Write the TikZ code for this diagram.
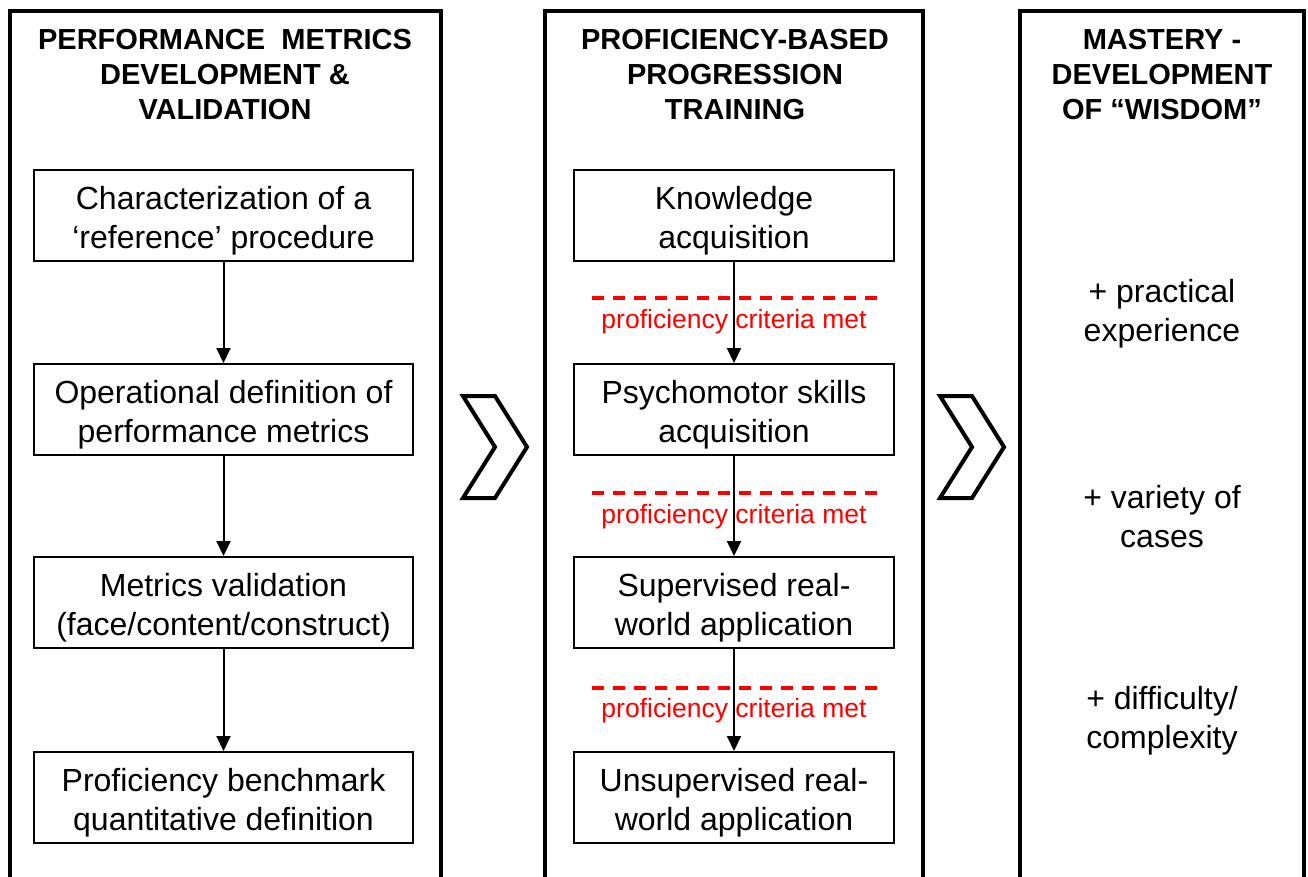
\documentclass[tikz,border=0pt]{standalone}
\usepackage{fontspec}
\setmainfont{Liberation Sans}
\usetikzlibrary{arrows.meta}

\begin{document}
\begin{tikzpicture}[x=1pt,y=-1pt,
panel/.style={line width=4pt},
box/.style={draw,line width=2pt,minimum height=91pt,align=center,inner sep=0pt,
  font=\fontsize{32}{39}\selectfont,execute at begin node={\rule{0pt}{72pt}}},
head/.style={align=center,font=\fontsize{29}{35}\selectfont\bfseries},
crit/.style={text=red,inner sep=0pt,font=\fontsize{26.5}{30}\selectfont},
gain/.style={align=center,font=\fontsize{32}{39}\selectfont},
flow/.style={line width=2pt,-{Triangle[width=14pt,length=15pt]}},
gate/.style={red,line width=4pt,dash pattern=on 12pt off 9pt},
chev/.style={line width=4pt,line join=miter}]
\useasboundingbox (0,0) rectangle (1308,876);
\draw[panel] (10,890) -- (10,11) -- (441,11) -- (441,890);
\draw[panel] (545,890) -- (545,11) -- (923,11) -- (923,890);
\draw[panel] (1020,890) -- (1020,11) -- (1304,11) -- (1304,890);
\node[head] (H1) at (225,75) {PERFORMANCE\ \ METRICS\\DEVELOPMENT \&\\VALIDATION};
\node[head] (H2) at (735,75) {PROFICIENCY-BASED\\PROGRESSION\\TRAINING};
\node[head] (H3) at (1162,75) {MASTERY -\\DEVELOPMENT\\OF ``WISDOM''};
\node[box,minimum width=379pt] (M1) at (223.5,215.5) {Characterization of a\\`reference' procedure};
\node[box,minimum width=379pt] (M2) at (223.5,409.5) {Operational definition of\\performance metrics};
\node[box,minimum width=379pt] (M3) at (223.5,602.5) {Metrics validation\\(face/content/construct)};
\node[box,minimum width=379pt] (M4) at (223.5,797.5) {Proficiency benchmark\\quantitative definition};
\node[box,minimum width=320pt] (P1) at (734,215.5) {Knowledge\\acquisition};
\node[box,minimum width=320pt] (P2) at (734,409.5) {Psychomotor skills\\acquisition};
\node[box,minimum width=320pt] (P3) at (734,602.5) {Supervised real-\\world application};
\node[box,minimum width=320pt] (P4) at (734,797.5) {Unsupervised real-\\world application};
\node[crit] (C1) at (734,322) {proficiency criteria met};
\node[crit] (C2) at (734,517) {proficiency criteria met};
\node[crit] (C3) at (734,711) {proficiency criteria met};
\node[gain] (G1) at (1162,313.5) {+ practical\\experience};
\node[gain] (G2) at (1162,516.5) {+ variety of\\cases};
\node[gain] (G3) at (1162,720.5) {+ difficulty/\\complexity};
\draw[gate] (592,298) -- (878,298);
\draw[gate] (592,493) -- (878,493);
\draw[gate] (592,688) -- (878,688);
\draw[flow] (M1) -- (M2);
\draw[flow] (M2) -- (M3);
\draw[flow] (M3) -- (M4);
\draw[flow] (P1) -- (P2);
\draw[flow] (P2) -- (P3);
\draw[flow] (P3) -- (P4);
\draw[chev] (463,396) -- (495,396) -- (527,447) -- (495,498) -- (463,498) -- (495,447) -- cycle;
\draw[chev,shift={(477,0)}] (463,396) -- (495,396) -- (527,447) -- (495,498) -- (463,498) -- (495,447) -- cycle;
\end{tikzpicture}
\end{document}
